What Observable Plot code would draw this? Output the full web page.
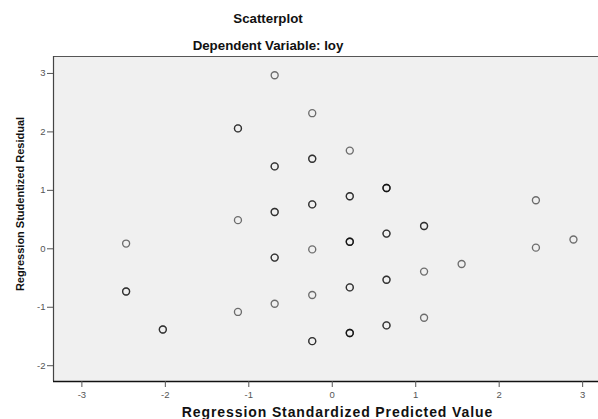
<!DOCTYPE html>
<html>
<head>
<meta charset="utf-8">
<script src="https://cdn.jsdelivr.net/npm/d3@7"></script>
<script src="https://cdn.jsdelivr.net/npm/@observablehq/plot@0.6"></script>
<style>
  html, body { margin: 0; padding: 0; background: #ffffff; }
  #chart svg { display: block; }
</style>
</head>
<body>
<div id="chart"></div>
<script>
// Regression diagnostics: standardized predicted value vs. studentized residual
const predicted = [
  -2.47, -2.47,
  -2.03,
  -1.13, -1.13, -1.13,
  -0.69, -0.69, -0.69, -0.69, -0.69,
  -0.24, -0.24, -0.24, -0.24, -0.24, -0.24,
  0.21, 0.21, 0.21, 0.21, 0.21,
  0.65, 0.65, 0.65, 0.65,
  1.10, 1.10, 1.10,
  1.55,
  2.44, 2.44,
  2.89
];
const residual = [
  0.09, -0.73,
  -1.38,
  2.06, 0.49, -1.08,
  2.97, 1.41, 0.63, -0.15, -0.94,
  2.32, 1.54, 0.76, -0.01, -0.79, -1.58,
  1.68, 0.90, 0.12, -0.66, -1.44,
  1.04, 0.26, -0.53, -1.31,
  0.39, -0.39, -1.18,
  -0.26,
  0.83, 0.02,
  0.16
];
// tied cases sharing the same point (overlapping markers print darker)
const cases = [
  1, 2,
  2,
  2, 1, 1,
  1, 2, 2, 2, 1,
  1, 2, 2, 1, 1, 2,
  1, 2, 3, 2, 3,
  3, 2, 2, 2,
  2, 1, 1,
  1,
  1, 1,
  1
];

const xTicks = [-3, -2, -1, 0, 1, 2, 3];
const yTicks = [-2, -1, 0, 1, 2, 3];
const xDomain = [-3.34, 3.19];
const yDomain = [-2.27, 3.29];

const chartTitle = "Scatterplot";
const chartSubtitle = "Dependent Variable: loy";
const xTitle = "Regression Standardized Predicted Value";
const yTitle = "Regression Studentized Residual";

const rows = predicted.flatMap((x, i) =>
  d3.range(cases[i]).map(() => ({ x, y: residual[i] }))
);

const font = "'Liberation Sans', Arial, Helvetica, sans-serif";

const chart = Plot.plot({
  width: 598,
  height: 419,
  marginTop: 56,
  marginLeft: 53,
  marginRight: 0,
  marginBottom: 38,
  style: { fontFamily: font, background: "#ffffff", overflow: "visible" },
  x: { domain: xDomain },
  y: { domain: yDomain },
  marks: [
    Plot.frame({ fill: "#f0f0f0", stroke: null }),
    Plot.ruleY([yDomain[1]], { stroke: "#555555", strokeWidth: 1.2 }),
    Plot.ruleX([xDomain[0]], { stroke: "#444444", strokeWidth: 1.2 }),
    Plot.ruleY([yDomain[0]], { stroke: "#111111", strokeWidth: 1.4 }),
    Plot.axisX({
      ticks: xTicks, tickSize: 6, tickPadding: 4, label: null,
      tickFormat: d => String(d).replace("−", "-"),
      fontSize: 9.5, color: "#555555"
    }),
    Plot.axisY({
      ticks: yTicks, tickSize: 6, tickPadding: 2, label: null,
      tickFormat: d => String(d).replace("−", "-"),
      fontSize: 9.5, color: "#555555"
    }),
    Plot.dot(rows, {
      x: "x", y: "y", r: 3.5,
      stroke: "#000000", strokeOpacity: 0.55, strokeWidth: 1.35, fill: "none"
    })
  ]
});

const svg = d3.select(chart);

svg.append("text")
  .attr("x", 268).attr("y", 23)
  .attr("text-anchor", "middle")
  .attr("font-family", font).attr("font-size", 13.3).attr("font-weight", "bold")
  .attr("fill", "#111")
  .text(chartTitle);

svg.append("text")
  .attr("x", 268).attr("y", 50)
  .attr("text-anchor", "middle")
  .attr("font-family", font).attr("font-size", 13.3).attr("font-weight", "bold")
  .attr("fill", "#111")
  .text(chartSubtitle);

svg.append("text")
  .attr("x", 337.5).attr("y", 417)
  .attr("text-anchor", "middle")
  .attr("font-family", font).attr("font-size", 14).attr("font-weight", "bold")
  .attr("letter-spacing", "0.9px")
  .attr("fill", "#111")
  .text(xTitle);

svg.append("text")
  .attr("transform", "translate(24,204) rotate(-90)")
  .attr("text-anchor", "middle")
  .attr("font-family", font).attr("font-size", 11).attr("font-weight", "bold")
  .attr("fill", "#111")
  .text(yTitle);

document.getElementById("chart").appendChild(chart);
</script>
</body>
</html>
